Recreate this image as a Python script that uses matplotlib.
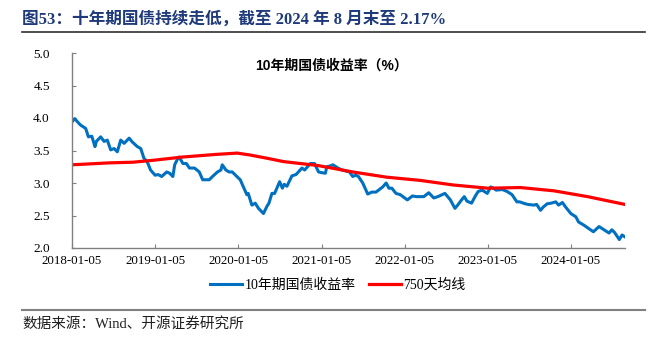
import matplotlib
matplotlib.use("Agg")
import matplotlib.pyplot as plt
from matplotlib.lines import Line2D
import pandas as pd

# ---- data ----
yield_dates = [
    "2018-01-05", "2018-01-17", "2018-02-01", "2018-02-12", "2018-03-06", "2018-03-18", "2018-04-02",
    "2018-04-16", "2018-04-22", "2018-05-11", "2018-05-26", "2018-06-09", "2018-06-24", "2018-07-09",
    "2018-07-23", "2018-08-07", "2018-08-22", "2018-09-13", "2018-09-27", "2018-10-19", "2018-11-03",
    "2018-11-17", "2018-12-01", "2018-12-16", "2019-01-05", "2019-01-18", "2019-02-03", "2019-02-25",
    "2019-03-10", "2019-03-24", "2019-04-01", "2019-04-15", "2019-04-21", "2019-05-07", "2019-05-22",
    "2019-06-05", "2019-06-27", "2019-07-18", "2019-08-02", "2019-08-14", "2019-08-31", "2019-09-14",
    "2019-10-06", "2019-10-21", "2019-10-27", "2019-11-12", "2019-11-26", "2019-12-10", "2019-12-30",
    "2020-01-14", "2020-01-28", "2020-02-12", "2020-02-18", "2020-03-05", "2020-03-20", "2020-04-03",
    "2020-04-25", "2020-05-10", "2020-05-19", "2020-06-01", "2020-06-13", "2020-07-05", "2020-07-17",
    "2020-07-25", "2020-08-06", "2020-08-28", "2020-09-15", "2020-10-11", "2020-10-23", "2020-11-17",
    "2020-12-05", "2020-12-23", "2021-01-05", "2021-01-22", "2021-01-28", "2021-02-10", "2021-02-24",
    "2021-03-18", "2021-04-05", "2021-05-08", "2021-05-22", "2021-06-04", "2021-06-16", "2021-07-05",
    "2021-07-27", "2021-08-14", "2021-09-01", "2021-10-01", "2021-10-16", "2021-10-28", "2021-11-10",
    "2021-11-28", "2021-12-17", "2022-01-17", "2022-02-08", "2022-02-26", "2022-03-30", "2022-04-21",
    "2022-05-13", "2022-05-31", "2022-07-01", "2022-07-13", "2022-07-25", "2022-08-14", "2022-08-26",
    "2022-09-12", "2022-09-24", "2022-10-06", "2022-10-26", "2022-11-10", "2022-11-24", "2022-12-12",
    "2023-01-03", "2023-01-18", "2023-01-30", "2023-02-11", "2023-03-10", "2023-03-31", "2023-04-22",
    "2023-05-13", "2023-05-25", "2023-06-19", "2023-07-01", "2023-07-27", "2023-08-08", "2023-08-25",
    "2023-09-06", "2023-09-23", "2023-10-11", "2023-10-31", "2023-11-12", "2023-11-29", "2023-12-11",
    "2024-01-05", "2024-01-27", "2024-02-08", "2024-03-03", "2024-03-15", "2024-04-01", "2024-04-13",
    "2024-05-08", "2024-05-30", "2024-06-21", "2024-07-03", "2024-07-15", "2024-08-05", "2024-08-17",
    "2024-08-30",
]
yield_values = [
    3.94, 3.99, 3.93, 3.89, 3.84, 3.71, 3.72,
    3.56, 3.64, 3.71, 3.64, 3.66, 3.51, 3.53,
    3.48, 3.66, 3.61, 3.69, 3.63, 3.56, 3.53,
    3.38, 3.33, 3.20, 3.12, 3.13, 3.10, 3.17,
    3.15, 3.10, 3.28, 3.38, 3.40, 3.30, 3.30,
    3.23, 3.23, 3.17, 3.05, 3.05, 3.05, 3.10,
    3.17, 3.20, 3.28, 3.20, 3.17, 3.17, 3.10,
    3.05, 2.94, 2.82, 2.84, 2.66, 2.69, 2.61,
    2.53, 2.64, 2.69, 2.84, 2.84, 3.02, 2.92,
    2.98, 2.95, 3.11, 3.13, 3.23, 3.20, 3.30,
    3.30, 3.17, 3.16, 3.15, 3.25, 3.26, 3.28,
    3.23, 3.20, 3.17, 3.10, 3.12, 3.10, 3.00,
    2.83, 2.86, 2.86, 2.94, 3.00, 2.92, 2.92,
    2.84, 2.82, 2.74, 2.80, 2.79, 2.79, 2.85,
    2.77, 2.79, 2.84, 2.79, 2.74, 2.61, 2.66,
    2.74, 2.79, 2.72, 2.69, 2.79, 2.87, 2.89,
    2.84, 2.94, 2.92, 2.89, 2.90, 2.87, 2.82,
    2.71, 2.71, 2.68, 2.67, 2.66, 2.67, 2.58,
    2.63, 2.68, 2.69, 2.71, 2.66, 2.70, 2.64,
    2.53, 2.48, 2.40, 2.35, 2.32, 2.28, 2.25,
    2.33, 2.28, 2.23, 2.28, 2.24, 2.13, 2.20,
    2.17,
]

ma_dates = [
    "2018-01-05", "2018-06-20", "2018-09-30", "2018-12-29", "2019-05-07", "2019-09-30",
    "2020-01-01", "2020-02-27", "2020-05-12", "2020-07-21", "2020-10-03", "2020-12-18",
    "2021-02-03", "2021-05-22", "2021-10-17", "2022-03-15", "2022-08-05", "2023-01-05",
    "2023-05-29", "2023-10-22", "2024-03-19", "2024-08-30",
]
ma_values = [
    3.28, 3.31, 3.32, 3.35, 3.40, 3.44,
    3.46, 3.43, 3.38, 3.33, 3.30, 3.27,
    3.24, 3.17, 3.09, 3.04, 2.97, 2.92,
    2.93, 2.88, 2.79, 2.67,
]

x_ticks = ["2018-01-05", "2019-01-05", "2020-01-05", "2021-01-05",
           "2022-01-05", "2023-01-05", "2024-01-05"]
y_ticks = [2.0, 2.5, 3.0, 3.5, 4.0, 4.5, 5.0]

series_names = ["10年期国债收益率", "750天均线"]
chart_title = "10年期国债收益率（%）"
fig_title = "图53：十年期国债持续走低，截至 2024 年 8 月末至 2.17%"
source = "数据来源：Wind、开源证券研究所"

# ---- figure ----
SERIF = ["Liberation Serif", "Noto Sans CJK SC"]
SANS = ["Liberation Sans", "Noto Sans CJK SC"]

fig = plt.figure(figsize=(6.52, 3.48), dpi=100)
ax = fig.add_axes([72 / 652, 1 - 248 / 348, (625 - 72) / 652, (248 - 53) / 348])

yd = pd.to_datetime(yield_dates)
md = pd.to_datetime(ma_dates)
ax.plot(yd, yield_values, color="#0070C0", lw=2.2, label=series_names[0], solid_joinstyle="round")
ax.plot(md, ma_values, color="#FF0000", lw=2.3, label=series_names[1])

ax.set_xlim(yd[0], yd[-1])
ax.set_ylim(2.0, 5.0)
ax.set_xticks(pd.to_datetime(x_ticks))
ax.set_xticklabels(x_ticks)
ax.set_yticks(y_ticks)
ax.set_yticklabels([f"{v:.1f}" for v in y_ticks])

for s in ["top", "right"]:
    ax.spines[s].set_visible(False)
for s in ["left", "bottom"]:
    ax.spines[s].set_color("#808080")
    ax.spines[s].set_linewidth(1.0)
ax.tick_params(axis="both", direction="in", color="#808080", length=3, width=0.8)
ax.tick_params(axis="y", labelsize=9.5, pad=16)
ax.tick_params(axis="x", labelsize=9.3, pad=5)
for lab in ax.get_xticklabels() + ax.get_yticklabels():
    lab.set_family(SERIF)

ax.text((331 - 72) / 553, 0.935, chart_title, transform=ax.transAxes, ha="center", va="center",
        fontsize=10, fontweight="bold", family=SANS)

leg = fig.legend(loc="center", bbox_to_anchor=(338 / 652, 1 - 285 / 348), ncol=2,
                 frameon=False, handlelength=2.3, columnspacing=0.9, handletextpad=0.2,
                 prop={"family": SERIF, "size": 10})

# title and rules
fig.text(22 / 652, 1 - 19 / 348, fig_title, ha="left", va="center", fontsize=12,
         fontweight="bold", color="#1F3A7A", family=SERIF)
fig.add_artist(Line2D([22 / 652, 645 / 652], [1 - 32 / 348, 1 - 32 / 348],
                      color="#303030", lw=1.2, transform=fig.transFigure))
fig.add_artist(Line2D([22 / 652, 645 / 652], [1 - 310 / 348, 1 - 310 / 348],
                      color="#808080", lw=1.5, transform=fig.transFigure))
fig.text(22 / 652, 1 - 324 / 348, source, ha="left", va="center", fontsize=10.5,
         color="#202020", family=SERIF)

fig.savefig("out.png", dpi=100)
